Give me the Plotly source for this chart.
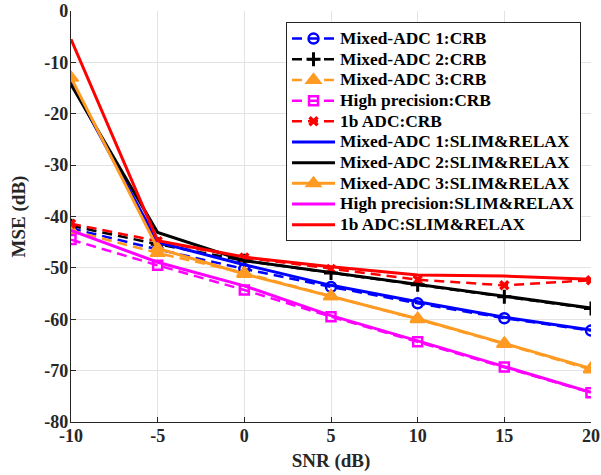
import plotly.graph_objects as go

snr = [-10, -5, 0, 5, 10, 15, 20]

crb_mixed1 = [-42.3, -46.4, -50.2, -53.7, -56.9, -59.8, -62.2]
crb_mixed2 = [-41.8, -45.4, -48.6, -51.0, -53.3, -55.6, -57.9]
crb_mixed3 = [-42.7, -47.1, -51.0, -55.5, -60.0, -64.8, -69.8]
crb_high = [-44.5, -49.5, -54.3, -59.5, -64.4, -69.3, -74.3]
crb_1b = [-41.4, -44.8, -48.0, -50.2, -52.3, -53.4, -52.4]

slim_mixed1 = [-13.8, -45.0, -49.4, -53.4, -56.6, -59.6, -62.1]
slim_mixed2 = [-14.3, -43.1, -48.6, -50.9, -53.1, -55.5, -57.8]
slim_mixed3 = [-13.0, -46.2, -51.2, -55.5, -59.9, -64.7, -69.6]
slim_high = [-42.7, -48.9, -53.5, -59.3, -64.2, -69.2, -74.2]
slim_1b = [-5.5, -44.7, -47.9, -49.8, -51.4, -51.6, -52.2]

names_crb = ["Mixed-ADC 1:CRB", "Mixed-ADC 2:CRB", "Mixed-ADC 3:CRB",
             "High precision:CRB", "1b ADC:CRB"]
names_slim = ["Mixed-ADC 1:SLIM&RELAX", "Mixed-ADC 2:SLIM&RELAX", "Mixed-ADC 3:SLIM&RELAX",
              "High precision:SLIM&RELAX", "1b ADC:SLIM&RELAX"]

x_ticks = [-10, -5, 0, 5, 10, 15, 20]
y_ticks = [0, -10, -20, -30, -40, -50, -60, -70, -80]

BLUE = "#0000ff"
BLACK = "#000000"
ORANGE = "#ff9a22"
MAGENTA = "#ff00ff"
RED = "#ff0000"

FONT = "Liberation Serif"
DASH = "10px,6px"


def legend_label(s):
    s = s.replace("&", "&amp;")
    return '<span style="font-size:17.4px;font-weight:bold">' + s + "</span>"


fig = go.Figure()

crb_specs = [
    (crb_mixed1, BLUE, dict(symbol="circle-open", size=10, line=dict(width=2.5, color=BLUE))),
    (crb_mixed2, BLACK, dict(symbol="cross-thin-open", size=10, line=dict(width=3, color=BLACK))),
    (crb_mixed3, ORANGE, dict(symbol="triangle-up", size=13, color=ORANGE, line=dict(width=1.5, color=ORANGE))),
    (crb_high, MAGENTA, dict(symbol="square-open", size=9, line=dict(width=2.5, color=MAGENTA))),
    (crb_1b, RED, dict(symbol="x-thin-open", size=8, line=dict(width=3.5, color=RED))),
]
for (vals, col, mk), nm in zip(crb_specs, names_crb):
    fig.add_trace(go.Scatter(x=snr, y=vals, name=legend_label(nm), mode="lines+markers",
                             line=dict(color=col, width=2.5, dash=DASH), marker=mk))

slim_specs = [
    (slim_mixed1, BLUE, None),
    (slim_mixed2, BLACK, None),
    (slim_mixed3, ORANGE, dict(symbol="triangle-up", size=13, color=ORANGE, line=dict(width=1.5, color=ORANGE))),
    (slim_high, MAGENTA, None),
    (slim_1b, RED, None),
]
for (vals, col, mk), nm in zip(slim_specs, names_slim):
    if mk is None:
        fig.add_trace(go.Scatter(x=snr, y=vals, name=legend_label(nm), mode="lines",
                                 line=dict(color=col, width=3)))
    else:
        fig.add_trace(go.Scatter(x=snr, y=vals, name=legend_label(nm), mode="lines+markers",
                                 line=dict(color=col, width=3), marker=mk))

axis_common = dict(
    showgrid=True, gridcolor="#e3e3e3", gridwidth=1,
    showline=True, linecolor="#262626", linewidth=1.2,
    ticks="inside", ticklen=5, tickcolor="#262626",
    zeroline=False, mirror=False, automargin=False,
    ticklabeloverflow="allow",
    tickfont=dict(family=FONT, size=18, color="#262626"),
)

fig.update_layout(
    width=601, height=475,
    margin=dict(l=71, r=10, t=11, b=53),
    paper_bgcolor="white", plot_bgcolor="white",
    font=dict(family=FONT, color="#262626"),
    showlegend=True,
    legend=dict(
        x=0.4135, y=0.9726, xanchor="left", yanchor="top",
        bgcolor="white", bordercolor="#262626", borderwidth=1,
        font=dict(family=FONT, size=13.6, color="#000000"),
        tracegroupgap=0, itemwidth=43,
    ),
    xaxis=dict(range=[-10, 20], tickvals=x_ticks,
               ticktext=["<b>%d</b>" % v for v in x_ticks],
               ticklabelstandoff=-3,
               title=dict(text="<b>SNR (dB)</b>", standoff=8,
                          font=dict(family=FONT, size=19, color="#262626")),
               **axis_common),
    yaxis=dict(range=[-80, 0], tickvals=y_ticks,
               ticktext=["<b>%d</b>" % v for v in y_ticks],
               ticklabelstandoff=-2,
               title=dict(text="<b>MSE (dB)</b>", standoff=13,
                          font=dict(family=FONT, size=19, color="#262626")),
               **axis_common),
)

fig.write_html("out.html", config={"displayModeBar": False},
               post_script="document.body.style.margin='0';document.body.style.padding='0';")
